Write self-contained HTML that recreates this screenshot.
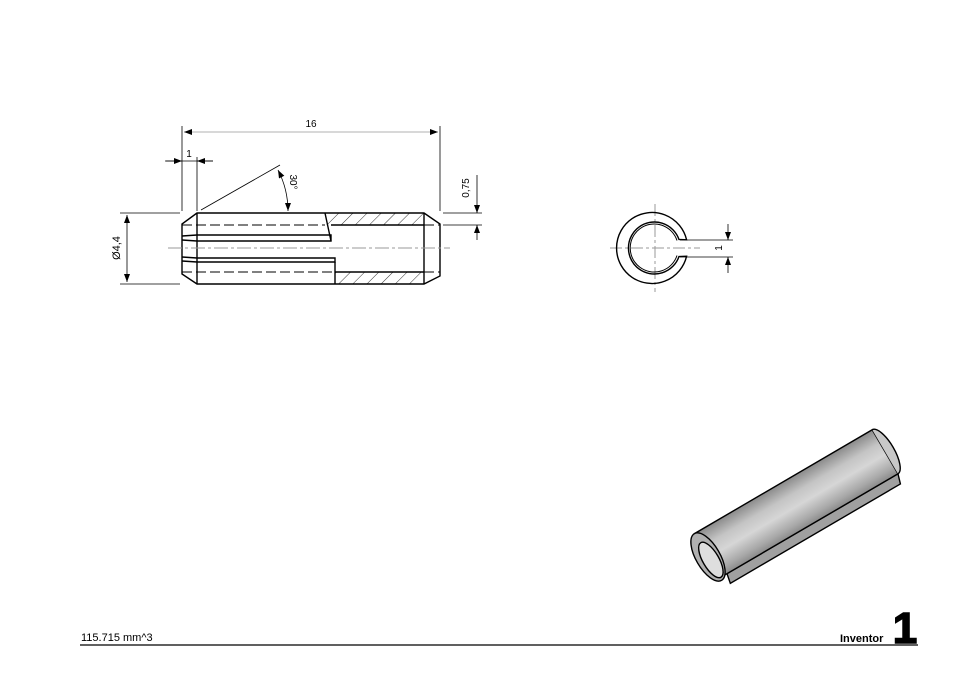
<!DOCTYPE html>
<html><head><meta charset="utf-8"><style>
html,body{margin:0;padding:0;background:#fff;}
svg{display:block;}
text{font-family:"Liberation Sans","DejaVu Sans",sans-serif;}
</style></head><body>
<svg width="960" height="678" viewBox="0 0 960 678" xmlns="http://www.w3.org/2000/svg">
<defs>
<pattern id="h" patternUnits="userSpaceOnUse" width="10" height="10" patternTransform="rotate(45)">
<line x1="0" y1="0" x2="0" y2="10" stroke="#000" stroke-width="0.8"/></pattern>
<linearGradient id="g" x1="0" y1="0" x2="0" y2="1">
<stop offset="0" stop-color="#8a8a8a"/><stop offset="0.3" stop-color="#c4c4c4"/><stop offset="0.55" stop-color="#d6d6d6"/><stop offset="0.85" stop-color="#a8a8a8"/><stop offset="1" stop-color="#8a8a8a"/></linearGradient>
<marker id="a" markerWidth="8" markerHeight="6" refX="8" refY="3" orient="auto-start-reverse" markerUnits="userSpaceOnUse"><path d="M0,0 L8,3 L0,6z" fill="#000"/></marker>
</defs>

<g fill="none" stroke="#000">
<rect x="326" y="213" width="98" height="12" fill="url(#h)" stroke="none"/>
<rect x="335" y="272" width="89" height="12" fill="url(#h)" stroke="none"/>
<g stroke-width="1.4">
<path d="M197,213 L424,213 L440,224 L440,276 L424,284 L197,284 L182,274 L182,224 Z"/>
<line x1="197" y1="213" x2="197" y2="284"/>
<line x1="424" y1="213" x2="424" y2="284"/>
<path d="M182,236 L197,235 L331,235 L331,241 L197,241 L182,240"/>
<line x1="325" y1="213" x2="331" y2="241"/>
<path d="M182,257 L197,258 L335,258 L335,262 L197,262 L182,261"/>
<line x1="335" y1="262" x2="335" y2="284"/>
<line x1="331" y1="225" x2="424" y2="225"/>
<line x1="335" y1="272" x2="424" y2="272"/>
</g>
<g stroke-width="1" stroke-dasharray="10,4">
<line x1="182" y1="225" x2="325" y2="225"/>
<line x1="182" y1="272" x2="335" y2="272"/>
<line x1="424" y1="225" x2="440" y2="225"/>
<line x1="424" y1="272" x2="440" y2="272"/>
</g>
<line x1="168" y1="248" x2="450" y2="248" stroke="#999" stroke-dasharray="14,3,3,3"/>
<g stroke-width="0.8">
<line x1="182" y1="126" x2="182" y2="211"/>
<line x1="440" y1="126" x2="440" y2="211"/>
<line x1="184" y1="132" x2="438" y2="132" stroke="#999" marker-start="url(#a)" marker-end="url(#a)"/>
<line x1="197" y1="157" x2="197" y2="211"/>
<line x1="165" y1="161" x2="182" y2="161" marker-end="url(#a)"/>
<line x1="213" y1="161" x2="197" y2="161" marker-end="url(#a)"/>
<line x1="166" y1="161" x2="213" y2="161"/>
<line x1="201" y1="210" x2="280" y2="165"/>
<path d="M278,170 A90,90 0 0 1 288,211" marker-start="url(#a)" marker-end="url(#a)"/>
<line x1="120" y1="213" x2="180" y2="213"/>
<line x1="120" y1="284" x2="180" y2="284"/>
<line x1="127" y1="215" x2="127" y2="282" marker-start="url(#a)" marker-end="url(#a)"/>
<line x1="443" y1="213" x2="482" y2="213"/>
<line x1="443" y1="225" x2="482" y2="225"/>
<line x1="477" y1="175" x2="477" y2="213" marker-end="url(#a)"/>
<line x1="477" y1="240" x2="477" y2="225" marker-end="url(#a)"/>
</g>
</g>
<text x="311" y="127" font-size="10" text-anchor="middle">16</text>
<text x="189" y="157" font-size="10" text-anchor="middle">1</text>
<text transform="translate(290,182) rotate(90)" font-size="10" text-anchor="middle">30°</text>
<text transform="translate(120,248) rotate(-90)" font-size="11" text-anchor="middle">Ø4,4</text>
<text transform="translate(469,188) rotate(-90)" font-size="10" text-anchor="middle">0,75</text>

<g fill="none" stroke="#000">
<line x1="655" y1="204" x2="655" y2="292" stroke="#999" stroke-dasharray="12,3,3,3"/>
<line x1="610" y1="248" x2="700" y2="248" stroke="#999" stroke-dasharray="12,3,3,3"/>
<path d="M686.6,239.8 A35.5,35.5 0 1 0 686.6,256.2 L679,256.5 A26,26 0 1 1 679,239.5 Z" stroke-width="1.4"/>
<path d="M677,240.5 A24,24 0 1 0 677,255.5" stroke-width="1"/>
<g stroke-width="0.8">
<line x1="680" y1="240" x2="733" y2="240"/>
<line x1="680" y1="257" x2="733" y2="257"/>
<line x1="728" y1="224" x2="728" y2="240" marker-end="url(#a)"/>
<line x1="728" y1="273" x2="728" y2="257" marker-end="url(#a)"/>
</g>
</g>
<text transform="translate(722,248) rotate(-90)" font-size="10" text-anchor="middle">1</text>

<g transform="translate(708,557) rotate(-30.3)" stroke="#000" stroke-width="1.4">
<path d="M8,24 L206,24 L203,34 L6,34 Z" fill="#a0a0a0"/>
<rect x="0" y="-27" width="206" height="51" fill="url(#g)"/>
<path d="M206,-27 A9,25 0 0 1 206,24" fill="#c8c8c8"/>
<ellipse cx="0" cy="0" rx="12" ry="27" fill="#b0b0b0"/>
<ellipse cx="1" cy="4" rx="8" ry="20" fill="#dedede"/>
</g>

<line x1="80" y1="645" x2="918" y2="645" stroke="#000" stroke-width="1.2"/>
<text x="81" y="641" font-size="11">115.715 mm^3</text>
<text x="840" y="642" font-size="11" font-weight="bold">Inventor</text>
<text x="905" y="643" font-size="44" font-weight="bold" text-anchor="middle" stroke="#000" stroke-width="1.5">1</text>
</svg>
</body></html>
